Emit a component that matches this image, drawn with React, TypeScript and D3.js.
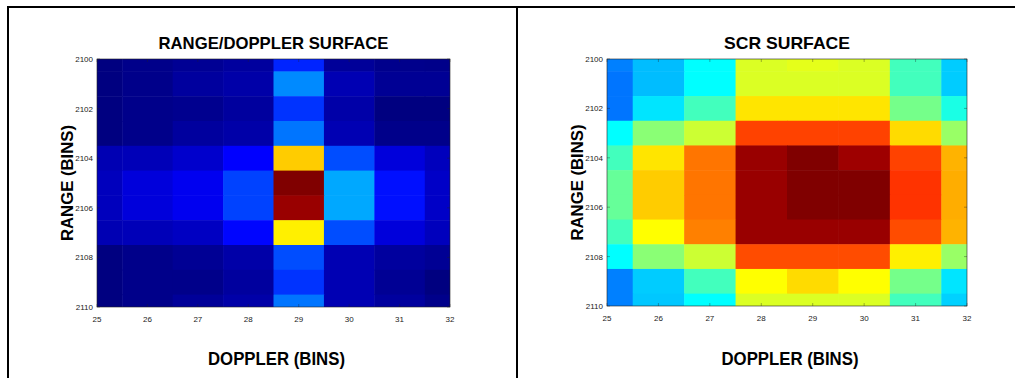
import React from "react";
import * as d3 from "d3";

// doppler bins (columns) and range bins (rows)
const DOPPLER = [25, 26, 27, 28, 29, 30, 31, 32];
const RANGE = [2100, 2101, 2102, 2103, 2104, 2105, 2106, 2107, 2108, 2109, 2110];
const X_TICKS = [25, 26, 27, 28, 29, 30, 31, 32];
const Y_TICKS = [2100, 2102, 2104, 2106, 2108, 2110];

// normalized magnitude, one row per range bin, columns 25..32
const RD_VALUES = [
  [0.0, 0.01, 0.02, 0.03, 0.16, 0.025, 0.012, 0.01],
  [0.0, 0.01, 0.03, 0.04, 0.26, 0.05, 0.02, 0.02],
  [0.0, 0.01, 0.015, 0.03, 0.175, 0.04, 0.0, 0.0],
  [0.0, 0.01, 0.03, 0.04, 0.24, 0.05, 0.01, 0.01],
  [0.05, 0.055, 0.075, 0.125, 0.675, 0.2, 0.09, 0.06],
  [0.06, 0.09, 0.11, 0.19, 1.0, 0.29, 0.14, 0.07],
  [0.06, 0.09, 0.11, 0.19, 0.975, 0.29, 0.14, 0.07],
  [0.05, 0.055, 0.065, 0.13, 0.64, 0.2, 0.09, 0.06],
  [0.0, 0.01, 0.02, 0.04, 0.2, 0.05, 0.03, 0.02],
  [0.0, 0.01, 0.01, 0.03, 0.175, 0.05, 0.02, 0.0],
  [0.0, 0.01, 0.025, 0.04, 0.24, 0.05, 0.03, 0.01],
];

const SCR_VALUES = [
  [0.25, 0.31, 0.375, 0.59, 0.6, 0.59, 0.44, 0.325],
  [0.24, 0.31, 0.375, 0.59, 0.59, 0.59, 0.44, 0.325],
  [0.24, 0.35, 0.44, 0.65, 0.65, 0.65, 0.49, 0.4],
  [0.375, 0.51, 0.575, 0.81, 0.81, 0.81, 0.66, 0.525],
  [0.44, 0.65, 0.76, 0.975, 1.0, 0.97, 0.81, 0.7],
  [0.475, 0.675, 0.76, 0.975, 1.0, 1.0, 0.825, 0.705],
  [0.475, 0.675, 0.76, 0.975, 1.0, 1.0, 0.825, 0.705],
  [0.44, 0.625, 0.75, 0.975, 0.975, 0.975, 0.8, 0.7],
  [0.375, 0.51, 0.575, 0.8, 0.8, 0.8, 0.64, 0.525],
  [0.25, 0.325, 0.44, 0.625, 0.66, 0.625, 0.49, 0.35],
  [0.25, 0.32, 0.375, 0.59, 0.59, 0.59, 0.44, 0.33],
];

const FONT = "'Liberation Sans Narrow', 'Liberation Sans', Arial, sans-serif";

// MATLAB jet colormap
function jet(v: number) {
  const c = (t: number) => Math.max(0, Math.min(1, t));
  const r = c(1.5 - Math.abs(4 * v - 3));
  const g = c(1.5 - Math.abs(4 * v - 2));
  const b = c(1.5 - Math.abs(4 * v - 1));
  return d3.rgb(r * 255, g * 255, b * 255).formatHex();
}

function Heatmap({ id, x0, x1, y0, y1, values, title, titleWidth }) {
  const x = d3.scaleLinear().domain([25, 32]).range([x0, x1]);
  const y = d3.scaleLinear().domain([2100, 2110]).range([y0, y1]);
  const cx = (x0 + x1) / 2;
  const tick = 3;
  return (
    <g>
      <defs>
        <clipPath id={id}>
          <rect x={x0} y={y0} width={x1 - x0} height={y1 - y0} />
        </clipPath>
      </defs>
      <g clipPath={`url(#${id})`}>
        {RANGE.map((r, i) =>
          DOPPLER.map((d, j) => (
            <rect
              key={`${i}-${j}`}
              x={x(d - 0.5)}
              y={y(r - 0.5)}
              width={x(d + 0.5) - x(d - 0.5) + 0.5}
              height={y(r + 0.5) - y(r - 0.5) + 0.5}
              fill={jet(values[i][j])}
            />
          ))
        )}
      </g>
      <rect x={x0} y={y0} width={x1 - x0} height={y1 - y0} fill="none" stroke="#222" strokeWidth={0.6} />
      {X_TICKS.map((t) => (
        <g key={`x${t}`}>
          <line x1={x(t)} x2={x(t)} y1={y1} y2={y1 - tick} stroke="#222" strokeOpacity={0.6} strokeWidth={0.6} />
          <line x1={x(t)} x2={x(t)} y1={y0} y2={y0 + tick} stroke="#222" strokeOpacity={0.6} strokeWidth={0.6} />
          <text x={x(t)} y={y1 + 15} fontSize={8} textAnchor="middle" fontFamily={FONT} fill="#222">
            {t}
          </text>
        </g>
      ))}
      {Y_TICKS.map((t) => (
        <g key={`y${t}`}>
          <line x1={x0} x2={x0 + tick} y1={y(t)} y2={y(t)} stroke="#222" strokeOpacity={0.6} strokeWidth={0.6} />
          <line x1={x1} x2={x1 - tick} y1={y(t)} y2={y(t)} stroke="#222" strokeOpacity={0.6} strokeWidth={0.6} />
          <text x={x0 - 4} y={y(t) + 3} fontSize={8} textAnchor="end" fontFamily={FONT} fill="#222">
            {t}
          </text>
        </g>
      ))}
      <text
        x={cx}
        y={49}
        fontSize={17}
        fontWeight="bold"
        textAnchor="middle"
        fontFamily={FONT}
        textLength={titleWidth}
        lengthAdjust="spacingAndGlyphs"
      >
        {title}
      </text>
      <text
        x={cx + 3}
        y={365}
        fontSize={18}
        fontWeight="bold"
        textAnchor="middle"
        fontFamily={FONT}
        textLength={137}
        lengthAdjust="spacingAndGlyphs"
      >
        DOPPLER (BINS)
      </text>
      <text
        transform={`translate(${x0 - 24}, ${(y0 + y1) / 2}) rotate(-90)`}
        fontSize={17}
        fontWeight="bold"
        textAnchor="middle"
        fontFamily={FONT}
        textLength={116}
        lengthAdjust="spacingAndGlyphs"
      >
        RANGE (BINS)
      </text>
    </g>
  );
}

const App = () => {
  return (
    <svg width={1015} height={378} style={{ position: "absolute", left: 0, top: 0, background: "#fff" }}>
      <rect x={0} y={0} width={1015} height={378} fill="#fff" />
      <line x1={8} x2={1015} y1={7} y2={7} stroke="#000" strokeWidth={2} />
      <line x1={8} x2={8} y1={6} y2={378} stroke="#000" strokeWidth={2} />
      <line x1={517} x2={517} y1={6} y2={378} stroke="#000" strokeWidth={2} />
      <Heatmap
        id="clip-rd"
        x0={97}
        x1={450}
        y0={59}
        y1={307}
        values={RD_VALUES}
        title="RANGE/DOPPLER SURFACE"
        titleWidth={230}
      />
      <Heatmap
        id="clip-scr"
        x0={607}
        x1={967}
        y0={59}
        y1={306}
        values={SCR_VALUES}
        title="SCR SURFACE"
        titleWidth={126}
      />
    </svg>
  );
};

export default App;
